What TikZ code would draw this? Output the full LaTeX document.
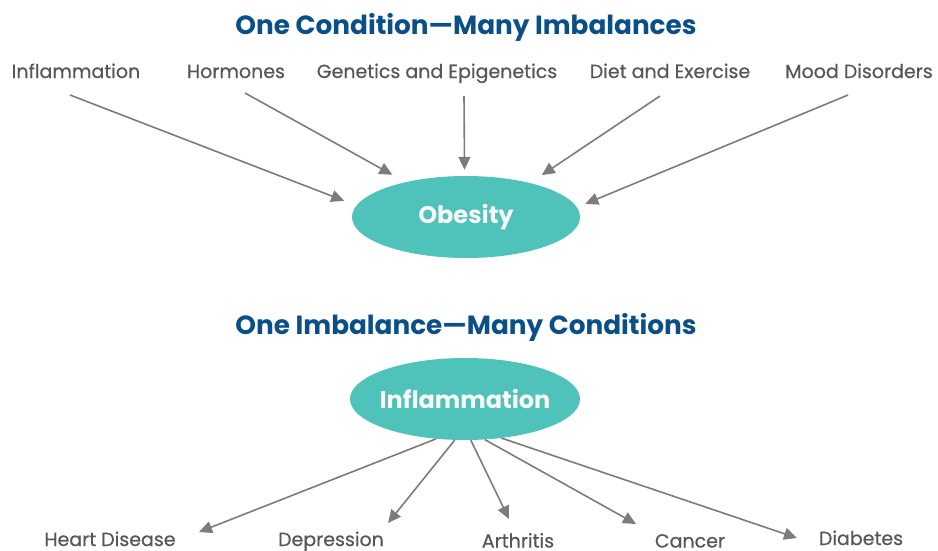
\documentclass[tikz,border=0pt]{standalone}
\usepackage{fontspec}
\setmainfont{Poppins}
\newfontfamily\medfont{Poppins}[FakeBold=0.6]
\usetikzlibrary{arrows.meta,shapes.geometric}
\definecolor{titleblue}{HTML}{0B4F88}
\definecolor{labgray}{HTML}{575757}
\definecolor{arrgray}{HTML}{7C7C7C}
\definecolor{teal}{HTML}{4FC2BA}
\tikzset{
  titletxt/.style={font=\bfseries\fontsize{26.3}{29}\selectfont, text=titleblue, inner sep=0pt, anchor=base},
  labtxt/.style={font=\medfont\fontsize{19}{22}\selectfont, text=labgray, inner sep=0pt, anchor=base},
  blob/.style={ellipse, fill=teal, draw=none, inner sep=0pt, inner xsep=-20pt, minimum width=228pt, minimum height=82pt,
    font=\bfseries\fontsize{24}{26}\selectfont, text=white!95!gray},
  arr/.style={draw=arrgray, line width=1.6pt, -{Triangle[length=13pt,width=12pt]}}
}
\begin{document}
\begin{tikzpicture}[x=1pt,y=-1pt]
\useasboundingbox (0,0) rectangle (938,550);
% titles
\node[titletxt] (t1) at (466,34) {One Condition—Many Imbalances};
\node[titletxt] (t2) at (466,334) {One Imbalance—Many Conditions};
% top labels
\node[labtxt] (a1) at (76,78) {Inflammation};
\node[labtxt] (a2) at (236,78) {Hormones};
\node[labtxt] (a3) at (437,78) {Genetics and Epigenetics};
\node[labtxt] (a4) at (670,78) {Diet and Exercise};
\node[labtxt] (a5) at (859,78) {Mood Disorders};
% ellipses
\node[blob] (obesity) at (466,217) {Obesity};
\node[blob, minimum width=230pt] (infl) at (465,399) {Inflammation};
% top arrow starts
\coordinate (s1) at (70,95);
\coordinate (s2) at (245,93);
\coordinate (s3) at (464,96);
\coordinate (s4) at (660,96);
\coordinate (s5) at (848,95);
\draw[arr, shorten >=13pt] (s1) -- (obesity.174);
\draw[arr, shorten >=15pt] (s2) -- (obesity.150.5);
\draw[arr, shorten >=6pt] (s3) -- (obesity.92);
\draw[arr, shorten >=14pt] (s4) -- (obesity.28.3);
\draw[arr, shorten >=9pt] (s5) -- (obesity.5.2);
% bottom labels
\node[labtxt] (b1) at (110,546) {Heart Disease};
\node[labtxt] (b2) at (331,546) {Depression};
\node[labtxt] (b3) at (518,547.5) {Arthritis};
\node[labtxt] (b4) at (690,547.5) {Cancer};
\node[labtxt] (b5) at (861,545) {Diabetes};
% bottom arrow tips
\coordinate (e1) at (199,532);
\coordinate (e2) at (388,523);
\coordinate (e3) at (509,519);
\coordinate (e4) at (636,524);
\coordinate (e5) at (797,538);
\draw[arr] (infl.234) -- (e1);
\draw[arr] (infl.256.6) -- (e2);
\draw[arr] (infl.278) -- (e3);
\draw[arr] (infl.296) -- (e4);
\draw[arr] (infl.313.5) -- (e5);
\end{tikzpicture}
\end{document}
